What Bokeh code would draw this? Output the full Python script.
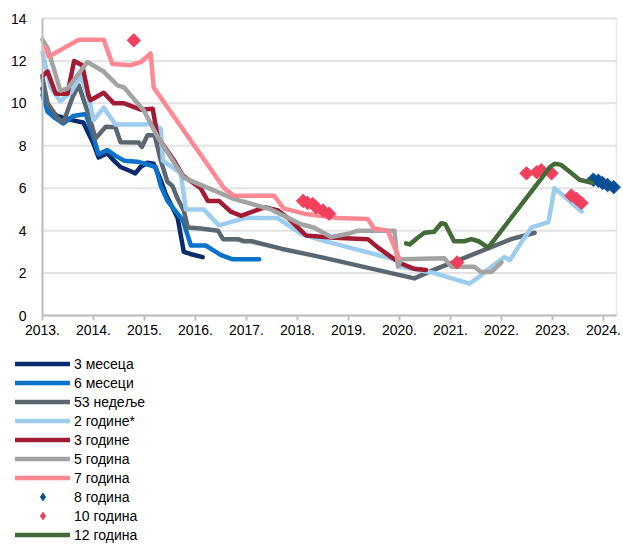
import numpy as np
from bokeh.plotting import figure
from bokeh.models import Legend, LegendItem, FixedTicker, Range1d, LinearAxis, BoxAnnotation
from bokeh.embed import file_html
from bokeh.resources import INLINE

# ---- data (x = fractional year) ----
years = list(range(2013, 2025))
year_labels = [f"{y}." for y in years]
y_ticks = [0, 2, 4, 6, 8, 10, 12, 14]

m3_x = [2013.0, 2013.1, 2013.3, 2013.45, 2013.6, 2013.8, 2014.0, 2014.1, 2014.27, 2014.4, 2014.53, 2014.73, 2014.82,
        2014.92, 2015.06, 2015.18, 2015.3, 2015.42, 2015.65, 2015.77, 2015.9, 2016.14]
m3_y = [10.7, 9.7, 9.4, 9.3, 9.2, 9.1, 8.1, 7.45, 7.65, 7.3, 7.0, 6.8, 6.7,
        7.0, 7.2, 7.15, 6.5, 5.7, 4.6, 3.0, 2.9, 2.75]

m6_x = [2013.0, 2013.1, 2013.25, 2013.41, 2013.6, 2013.85, 2014.0, 2014.1, 2014.27, 2014.45, 2014.6, 2014.86,
        2015.02, 2015.22, 2015.32, 2015.45, 2015.75, 2015.91, 2016.2, 2016.5, 2016.73, 2017.25]
m6_y = [10.4, 9.6, 9.3, 9.05, 9.4, 9.5, 8.4, 7.6, 7.8, 7.5, 7.3, 7.25,
        7.15, 7.0, 6.1, 5.4, 4.5, 3.3, 3.3, 2.85, 2.65, 2.65]

w53_x = [2013.0, 2013.1, 2013.3, 2013.41, 2013.59, 2013.71, 2013.9, 2014.04, 2014.24, 2014.43, 2014.53, 2014.89,
         2014.95, 2015.06, 2015.2, 2015.32, 2015.45, 2015.55, 2015.65, 2015.77, 2015.85, 2016.1, 2016.44, 2016.54,
         2016.83, 2016.95, 2017.1, 2017.68, 2018.46, 2020.29, 2020.62, 2021.15, 2022.19, 2022.65]
w53_y = [11.2, 10.0, 9.3, 9.1, 10.3, 10.85, 9.5, 8.35, 8.9, 8.87, 8.17, 8.15,
         7.95, 8.5, 8.5, 7.3, 6.3, 6.1, 5.5, 4.95, 4.15, 4.1, 4.0, 3.6,
         3.6, 3.5, 3.5, 3.15, 2.75, 1.75, 2.1, 2.6, 3.6, 3.9]

y2_x = [2013.0, 2013.16, 2013.35, 2013.55, 2013.75, 2013.94, 2014.0, 2014.2, 2014.43, 2015.0, 2015.16, 2015.32,
        2015.36, 2015.71, 2015.81, 2016.16, 2016.46, 2016.99, 2017.42, 2017.6, 2018.07, 2018.46, 2019.97, 2020.03,
        2020.68, 2021.37, 2021.55, 2021.8, 2022.06, 2022.16, 2022.43, 2022.59, 2022.92, 2023.04, 2023.24, 2023.57]
y2_y = [12.4, 10.75, 10.1, 10.5, 11.3, 9.9, 9.2, 9.8, 9.0, 9.0, 9.05, 8.8,
        7.3, 6.7, 5.0, 5.0, 4.25, 4.6, 4.6, 4.6, 3.85, 3.55, 2.6, 2.3,
        2.0, 1.5, 1.8, 2.3, 2.75, 2.6, 3.6, 4.15, 4.4, 6.0, 5.6, 4.9]

y3_x = [2013.0, 2013.1, 2013.26, 2013.49, 2013.62, 2013.78, 2013.9, 2013.94, 2014.2, 2014.4, 2014.6, 2014.93,
        2015.16, 2015.26, 2015.58, 2015.75, 2016.1, 2016.24, 2016.46, 2016.69, 2016.89, 2017.35, 2017.62, 2017.81,
        2018.07, 2018.17, 2018.72, 2019.38, 2019.58, 2019.84, 2020.03, 2020.29, 2020.52]
y3_y = [11.3, 11.5, 10.45, 10.45, 12.0, 11.8, 10.4, 10.15, 10.5, 10.0, 10.0, 9.7,
        9.75, 8.4, 7.3, 6.6, 6.0, 5.4, 5.4, 4.9, 4.7, 5.1, 4.95, 4.6,
        4.0, 3.77, 3.67, 3.6, 3.2, 2.75, 2.45, 2.2, 2.15]

y5_x = [2013.0, 2013.1, 2013.35, 2013.49, 2013.88, 2014.2, 2014.47, 2014.6, 2014.99, 2015.26, 2015.77, 2016.75,
        2017.48, 2018.07, 2018.32, 2018.66, 2018.99, 2019.19, 2019.9, 2019.97, 2020.03, 2020.88, 2021.02, 2021.47,
        2021.6, 2021.8, 2022.0]
y5_y = [13.0, 12.6, 10.6, 10.7, 11.95, 11.5, 10.85, 10.75, 9.65, 8.4, 6.5, 5.5,
        5.0, 4.3, 4.15, 3.7, 3.85, 4.0, 4.0, 2.3, 2.65, 2.7, 2.3, 2.3,
        2.05, 2.05, 2.5]

y7_x = [2013.06, 2013.12, 2013.45, 2013.71, 2014.2, 2014.37, 2014.73, 2014.93, 2015.12, 2015.18, 2016.56, 2016.75,
        2017.54, 2017.73, 2018.13, 2018.79, 2019.38, 2019.5, 2019.77, 2019.99]
y7_y = [12.65, 12.2, 12.65, 13.0, 13.0, 11.85, 11.8, 11.95, 12.35, 10.75, 6.0, 5.65,
        5.65, 5.05, 4.8, 4.6, 4.55, 4.1, 4.0, 2.7]

y8_x = [2023.8, 2023.9, 2023.98, 2024.08, 2024.2]
y8_y = [6.4, 6.35, 6.25, 6.15, 6.05]

y10_x = [2014.79, 2018.11, 2018.2, 2018.3, 2018.36, 2018.5, 2018.62, 2021.13, 2022.49, 2022.69, 2022.78, 2022.98,
         2023.37, 2023.47, 2023.57]
y10_y = [12.97, 5.4, 5.3, 5.25, 5.1, 4.95, 4.8, 2.5, 6.7, 6.75, 6.85, 6.7,
         5.65, 5.5, 5.3]

y12_x = [2020.13, 2020.2, 2020.35, 2020.49, 2020.68, 2020.82, 2020.9, 2021.07, 2021.27, 2021.41, 2021.55, 2021.74,
         2022.78, 2022.95, 2023.04, 2023.17, 2023.35, 2023.53, 2023.77]
y12_y = [3.4, 3.35, 3.65, 3.9, 3.95, 4.35, 4.3, 3.5, 3.5, 3.6, 3.5, 3.2,
         6.45, 7.0, 7.15, 7.1, 6.75, 6.4, 6.25]

names = ["3 месеца", "6 месеци", "53 недеље", "2 године*", "3 године", "5 година", "7 година",
         "8 година", "10 година", "12 година"]

# ---- layout / style ----
FONT = "Liberation Sans"
GRAY = "#BFBFBF"
GRID = "#E3E3E3"
LW = 4.5
W, H = 623, 544
PX_L, PX_R, PX_T, PX_B = 42, 616, 18, 315      # plot-area edges in pixels
X0, X1, Y0, Y1 = 2013.0, 2024.255, 0.0, 14.0    # plot-area edges in data units

sx = (PX_R - PX_L) / (X1 - X0)
sy = (PX_B - PX_T) / (Y1 - Y0)
x_range = Range1d(X0 - PX_L / sx, X1 + (W - PX_R) / sx)
y_range = Range1d(Y0 - (H - PX_B) / sy, Y1 + PX_T / sy)

styles = [
    ("line", "#0A2C6E"),
    ("line", "#0A72C8"),
    ("line", "#5B6770"),
    ("line", "#9DCDEE"),
    ("line", "#A31A33"),
    ("line", "#A3A3A3"),
    ("line", "#FF8893"),
    ("diamond", "#0A4F96"),
    ("diamond", "#F2405C"),
    ("line", "#436B38"),
]
series_data = [(m3_x, m3_y), (m6_x, m6_y), (w53_x, w53_y), (y2_x, y2_y), (y3_x, y3_y),
               (y5_x, y5_y), (y7_x, y7_y), (y8_x, y8_y), (y10_x, y10_y), (y12_x, y12_y)]

p = figure(width=W, height=H, output_backend="svg", toolbar_location=None,
           x_range=x_range, y_range=y_range, x_axis_type=None, y_axis_type=None,
           min_border=0, min_border_left=0, min_border_right=0, min_border_top=0, min_border_bottom=0,
           background_fill_color="white", border_fill_color="white")
p.outline_line_color = None
p.grid.visible = False

# horizontal gridlines inside the plot area
p.segment(x0=[X0] * len(y_ticks), x1=[X1] * len(y_ticks), y0=y_ticks, y1=y_ticks,
          line_color=GRID, line_width=2)

# plot-area border
p.add_layout(BoxAnnotation(left=X0, right=X1, bottom=Y0, top=Y1, fill_alpha=0,
                           line_color=GRAY, line_width=2, level="underlay"))

yaxis = LinearAxis(fixed_location=X0, bounds=(Y0, Y1), ticker=FixedTicker(ticks=y_ticks),
                   axis_line_color=GRAY, axis_line_width=2,
                   major_tick_line_color=None, minor_tick_line_color=None,
                   major_label_standoff=10, major_label_text_font=FONT,
                   major_label_text_font_size="14px", major_label_text_color="black")
p.add_layout(yaxis, "left")

xaxis = LinearAxis(fixed_location=Y0, bounds=(X0, X1), ticker=FixedTicker(ticks=years),
                   major_label_overrides={y: l for y, l in zip(years, year_labels)},
                   axis_line_color=GRAY, axis_line_width=2,
                   major_tick_line_color=GRAY, major_tick_line_width=2,
                   major_tick_in=0, major_tick_out=5, minor_tick_line_color=None,
                   major_label_standoff=4, major_label_text_font=FONT,
                   major_label_text_font_size="14px", major_label_text_color="black")
p.add_layout(xaxis, "below")

legend_renderers = []
for (xs, ys), (kind, color) in zip(series_data, styles):
    if kind == "line":
        r = p.line(xs, ys, line_color=color, line_width=LW, line_join="round", line_cap="round")
        legend_renderers.append(r)
    else:
        # visible marks: squares turned 45 degrees (diamonds)
        p.scatter(xs, ys, marker="square", angle=np.pi / 4, size=9.5,
                  fill_color=color, line_color=color)
        # legend swatch: diamond marker (legend swatches ignore angle)
        r = p.scatter(xs, ys, marker="diamond", size=12, fill_color=color,
                      line_color=color, visible=False)
        legend_renderers.append(r)

items = [LegendItem(label=n, renderers=[r]) for n, r in zip(names, legend_renderers)]
legend = Legend(items=items, location=(15, 0), orientation="vertical",
                border_line_color=None, background_fill_alpha=0,
                inactive_fill_alpha=0,
                label_text_font=FONT, label_text_font_size="14px", label_text_color="black",
                glyph_width=55, glyph_height=19, label_height=19, spacing=0,
                padding=0, margin=0, label_standoff=4)
p.add_layout(legend, "center")

open("out.html", "w").write(file_html(p, INLINE))
